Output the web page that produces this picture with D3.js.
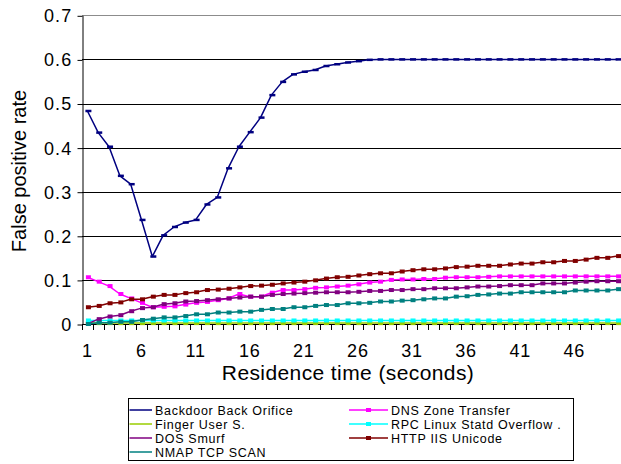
<!DOCTYPE html>
<html>
<head>
<meta charset="utf-8">
<script src="https://cdn.jsdelivr.net/npm/d3@7/dist/d3.min.js"></script>
<style>
  html, body { margin: 0; padding: 0; background: #fff; }
  svg { display: block; font-family: "Liberation Sans", Arial, sans-serif; }
</style>
</head>
<body>
<svg id="chart" width="621" height="464"></svg>
<script>
// Residence time in seconds (categories 1..50)
const seconds = d3.range(1, 51);
const xTickLabels = [1, 6, 11, 16, 21, 26, 31, 36, 41, 46];
const yTicks = [0, 0.1, 0.2, 0.3, 0.4, 0.5, 0.6, 0.7];

const seriesNames = [
  "Backdoor Back Orifice",
  "DNS Zone Transfer",
  "Finger User S.",
  "RPC Linux Statd Overflow .",
  "DOS Smurf",
  "HTTP IIS Unicode",
  "NMAP TCP SCAN"
];

const backdoor = [
  0.483, 0.434, 0.402, 0.336, 0.317, 0.236, 0.153, 0.201, 0.220, 0.230,
  0.236, 0.271, 0.287, 0.353, 0.402, 0.435, 0.468, 0.519, 0.549, 0.566,
  0.572, 0.576, 0.585, 0.589, 0.593, 0.596, 0.599, 0.600, 0.600, 0.600,
  0.600, 0.600, 0.600, 0.600, 0.600, 0.600, 0.600, 0.600, 0.600, 0.600,
  0.600, 0.600, 0.600, 0.600, 0.600, 0.600, 0.600, 0.600, 0.600, 0.600
];
const dnsZone = [
  0.106, 0.096, 0.086, 0.068, 0.058, 0.048, 0.038, 0.039, 0.040, 0.044,
  0.048, 0.050, 0.054, 0.058, 0.068, 0.062, 0.062, 0.071, 0.077, 0.077,
  0.079, 0.082, 0.083, 0.085, 0.087, 0.090, 0.094, 0.096, 0.100, 0.101,
  0.101, 0.102, 0.102, 0.105, 0.106, 0.106, 0.106, 0.107, 0.108, 0.108,
  0.108, 0.108, 0.108, 0.108, 0.108, 0.108, 0.108, 0.108, 0.108, 0.108
];
const fingerUser = [
  0.002, 0.002, 0.002, 0.002, 0.002, 0.002, 0.002, 0.002, 0.002, 0.002,
  0.002, 0.002, 0.002, 0.002, 0.002, 0.002, 0.002, 0.002, 0.002, 0.002,
  0.002, 0.002, 0.002, 0.002, 0.002, 0.002, 0.002, 0.002, 0.002, 0.002,
  0.002, 0.002, 0.002, 0.002, 0.002, 0.002, 0.002, 0.002, 0.002, 0.002,
  0.002, 0.002, 0.002, 0.002, 0.002, 0.002, 0.002, 0.002, 0.002, 0.002
];
const rpcStatd = [
  0.008, 0.008, 0.008, 0.008, 0.008, 0.008, 0.008, 0.008, 0.008, 0.008,
  0.008, 0.008, 0.008, 0.008, 0.008, 0.008, 0.008, 0.008, 0.008, 0.008,
  0.008, 0.008, 0.008, 0.008, 0.008, 0.008, 0.008, 0.008, 0.008, 0.008,
  0.008, 0.008, 0.008, 0.008, 0.008, 0.008, 0.008, 0.008, 0.008, 0.008,
  0.008, 0.008, 0.008, 0.008, 0.008, 0.008, 0.008, 0.008, 0.008, 0.008
];
const dosSmurf = [
  0.000, 0.011, 0.017, 0.020, 0.029, 0.036, 0.038, 0.045, 0.047, 0.051,
  0.052, 0.054, 0.056, 0.058, 0.060, 0.062, 0.062, 0.066, 0.068, 0.069,
  0.070, 0.071, 0.072, 0.072, 0.072, 0.073, 0.075, 0.075, 0.077, 0.077,
  0.079, 0.079, 0.081, 0.081, 0.081, 0.083, 0.085, 0.085, 0.086, 0.088,
  0.088, 0.088, 0.092, 0.092, 0.092, 0.094, 0.096, 0.097, 0.097, 0.097
];
const httpIis = [
  0.038, 0.041, 0.047, 0.049, 0.056, 0.056, 0.062, 0.066, 0.066, 0.070,
  0.072, 0.077, 0.078, 0.080, 0.083, 0.086, 0.087, 0.089, 0.092, 0.094,
  0.096, 0.099, 0.103, 0.106, 0.107, 0.110, 0.113, 0.115, 0.115, 0.119,
  0.122, 0.124, 0.124, 0.126, 0.129, 0.130, 0.132, 0.132, 0.132, 0.135,
  0.137, 0.137, 0.140, 0.140, 0.143, 0.143, 0.146, 0.150, 0.150, 0.154
];
const nmapScan = [
  0.000, 0.003, 0.003, 0.005, 0.005, 0.009, 0.012, 0.015, 0.015, 0.018,
  0.022, 0.022, 0.026, 0.026, 0.028, 0.028, 0.032, 0.034, 0.034, 0.038,
  0.038, 0.041, 0.043, 0.043, 0.047, 0.047, 0.048, 0.051, 0.051, 0.053,
  0.054, 0.056, 0.058, 0.058, 0.062, 0.063, 0.066, 0.067, 0.069, 0.069,
  0.072, 0.072, 0.072, 0.072, 0.072, 0.076, 0.076, 0.076, 0.076, 0.079
];

const seriesValues = [backdoor, dnsZone, fingerUser, rpcStatd, dosSmurf, httpIis, nmapScan];
const seriesColors = ["#000080", "#ff00ff", "#99cc00", "#00ffff", "#800080", "#800000", "#008080"];

const svg = d3.select("#chart");

const plot = { left: 82, top: 15.3, bottom: 324, right: 623 };

const x = d3.scaleBand().domain(seconds).range([plot.left, plot.right]).padding(0);
const cx = d => x(d) + x.bandwidth() / 2;
const y = d3.scaleLinear().domain([0, 0.7]).range([plot.bottom, plot.top]);

// Horizontal gridlines
svg.append("g")
  .selectAll("line")
  .data(yTicks.filter(t => t > 0))
  .join("line")
  .attr("x1", plot.left).attr("x2", 621)
  .attr("y1", d => Math.round(y(d)) + 0.5).attr("y2", d => Math.round(y(d)) + 0.5)
  .attr("stroke", d => d === 0.7 ? "#8c8c8c" : "#000")
  .attr("stroke-width", 1);

// Y axis
const yAxis = d3.axisLeft(y).tickValues(yTicks).tickSize(5).tickSizeOuter(0)
  .tickFormat(d => d === 0 ? "0" : d3.format(".1f")(d));
const gy = svg.append("g")
  .attr("transform", `translate(${plot.left + 0.5},0)`)
  .call(yAxis);
gy.selectAll(".tick line").attr("transform", "translate(0,0.5)");
gy.selectAll("text").attr("font-size", 18).attr("fill", "#000")
  .attr("letter-spacing", 1.2)
  .attr("x", -10).attr("dy", "0.36em")
  .attr("font-family", "Liberation Sans, Arial, sans-serif");
gy.select(".domain").attr("stroke", "#000");

// X axis line and category boundary ticks
const gx = svg.append("g");
gx.append("line")
  .attr("x1", plot.left).attr("x2", 621)
  .attr("y1", plot.bottom + 0.5).attr("y2", plot.bottom + 0.5)
  .attr("stroke", "#000");
const boundaries = seconds.map(s => x(s)).concat([plot.right]);
gx.selectAll("line.tk")
  .data(boundaries)
  .join("line")
  .attr("class", "tk")
  .attr("x1", d => Math.round(d) + 0.5).attr("x2", d => Math.round(d) + 0.5)
  .attr("y1", plot.bottom).attr("y2", plot.bottom + 6)
  .attr("stroke", "#000");

// X tick labels at every fifth category
const xAxis = d3.axisBottom(x).tickValues(xTickLabels).tickSize(0);
const gxl = svg.append("g")
  .attr("transform", `translate(0,${plot.bottom})`)
  .call(xAxis);
gxl.select(".domain").remove();
gxl.selectAll("text").attr("font-size", 18).attr("fill", "#000")
  .attr("letter-spacing", 0.8)
  .attr("y", 20.5).attr("dy", "0.71em")
  .attr("font-family", "Liberation Sans, Arial, sans-serif");

// Axis titles
svg.append("text")
  .attr("x", 348).attr("y", 380)
  .attr("text-anchor", "middle")
  .attr("font-size", 21)
  .attr("letter-spacing", 0.4)
  .text("Residence time (seconds)");
svg.append("text")
  .attr("transform", "translate(26,171) rotate(-90)")
  .attr("text-anchor", "middle")
  .attr("font-size", 20)
  .text("False positive rate");

// Series lines and markers
const line = d3.line().x((v, i) => cx(seconds[i])).y(v => y(v));
const seriesG = svg.append("g");
seriesValues.forEach((vals, si) => {
  const g = seriesG.append("g");
  g.append("path")
    .datum(vals)
    .attr("d", line)
    .attr("fill", "none")
    .attr("stroke", seriesColors[si])
    .attr("stroke-width", 1.5)
    .attr("stroke-linejoin", "round");
  const isDash = si === 0;
  const mw = isDash ? 6 : 5, mh = isDash ? 2.5 : 4;
  g.selectAll("rect")
    .data(vals)
    .join("rect")
    .attr("x", (v, i) => cx(seconds[i]) - mw / 2 + 1)
    .attr("y", v => y(v) - mh / 2)
    .attr("width", mw).attr("height", mh)
    .attr("fill", seriesColors[si]);
});

// Legend
const legend = svg.append("g");
legend.append("rect")
  .attr("x", 128.5).attr("y", 398.5)
  .attr("width", 445).attr("height", 62)
  .attr("fill", "#fff").attr("stroke", "#000");

const rowY = [415, 429, 443, 457];
// series order laid out row by row in two columns
const legendPos = [
  { col: 0, row: 0 }, { col: 1, row: 0 },
  { col: 0, row: 1 }, { col: 1, row: 1 },
  { col: 0, row: 2 }, { col: 1, row: 2 },
  { col: 0, row: 3 }
];
const colSample = [[129.5, 152], [349, 388]];
const colText = [155, 391];
seriesNames.forEach((name, si) => {
  const p = legendPos[si];
  const ly = rowY[p.row] - 5;
  const [x1, x2] = colSample[p.col];
  legend.append("line")
    .attr("x1", x1).attr("x2", x2)
    .attr("y1", ly).attr("y2", ly)
    .attr("stroke", seriesColors[si]).attr("stroke-width", 1.5);
  if (p.col === 1) {
    legend.append("rect")
      .attr("x", (x1 + x2) / 2 - 2.5).attr("y", ly - 2)
      .attr("width", 5).attr("height", 4)
      .attr("fill", seriesColors[si]);
  }
  legend.append("text")
    .attr("x", colText[p.col]).attr("y", rowY[p.row])
    .attr("font-size", 12.5)
    .attr("letter-spacing", 0.7)
    .text(name);
});
</script>
</body>
</html>
